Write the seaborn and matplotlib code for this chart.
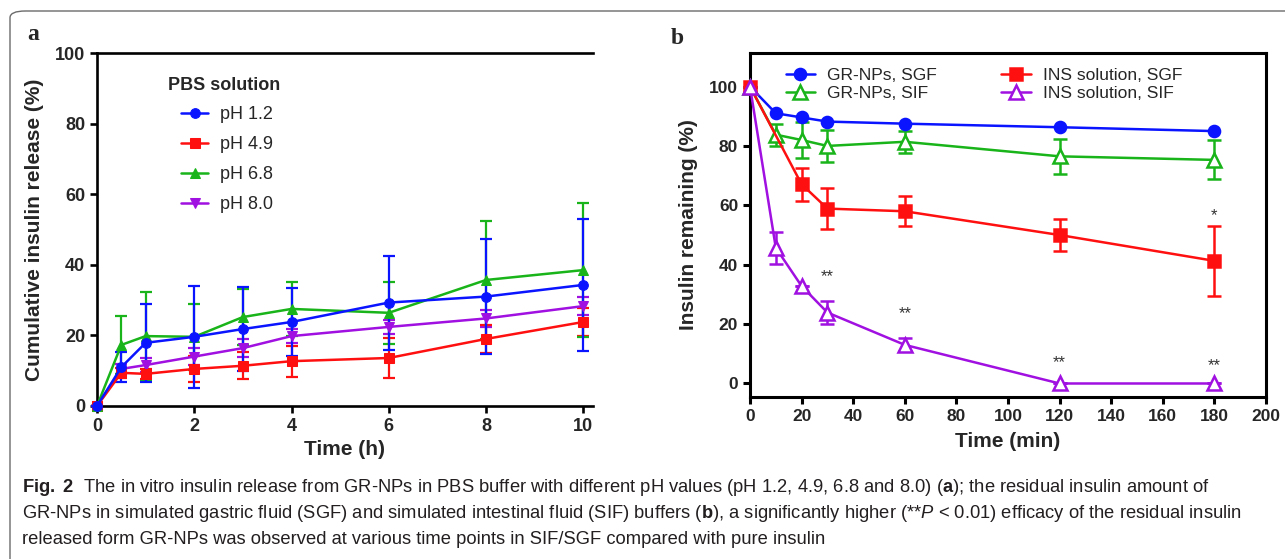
import numpy as np
import pandas as pd
import matplotlib
matplotlib.use("Agg")
import matplotlib.pyplot as plt
import seaborn as sns
from matplotlib.patches import FancyBboxPatch

# ---- panel a data: cumulative insulin release (%) in PBS ----
time_h = [0, 0.5, 1, 2, 3, 4, 6, 8, 10]
ph_labels = ["pH 1.2", "pH 4.9", "pH 6.8", "pH 8.0"]
release_ph12 = [0, 11.0, 17.9, 19.6, 21.8, 23.8, 29.3, 31.0, 34.3]
err_ph12 = [0, 4.3, 11.0, 14.5, 12.0, 9.7, 13.3, 16.3, 18.7]
release_ph49 = [0, 9.4, 9.1, 10.5, 11.4, 12.7, 13.6, 19.0, 23.8]
err_ph49 = [0, 1.5, 1.5, 3.6, 3.8, 4.4, 5.7, 4.0, 4.0]
release_ph68 = [0, 17.3, 19.8, 19.6, 25.2, 27.5, 26.4, 35.7, 38.5]
err_ph68 = [0, 8.2, 12.6, 9.4, 8.0, 7.7, 8.7, 16.7, 19.0]
release_ph80 = [0, 10.5, 11.6, 14.0, 16.4, 19.8, 22.4, 24.8, 28.3]
err_ph80 = [0, 1.5, 2.0, 2.5, 2.5, 2.0, 2.0, 2.5, 2.5]

# ---- panel b data: insulin remaining (%) ----
time_min = [0, 10, 20, 30, 60, 120, 180]
time_min_ins_sgf = [0, 20, 30, 60, 120, 180]
b_labels = ["GR-NPs, SGF", "GR-NPs, SIF", "INS solution, SGF", "INS solution, SIF"]
gr_sgf = [100, 91.0, 89.6, 88.2, 87.5, 86.3, 85.0]
gr_sif = [100, 83.8, 82.0, 80.0, 81.4, 76.5, 75.3]
gr_sif_err = [0, 3.7, 6.0, 5.4, 3.8, 6.0, 6.6]
ins_sgf = [100, 67.1, 58.9, 58.0, 50.0, 41.3]
ins_sgf_err = [0, 5.5, 7.0, 5.0, 5.3, 11.8]
ins_sif = [100, 45.7, 32.8, 23.9, 13.0, 0, 0]
ins_sif_err = [0, 5.4, 0, 4.0, 2.2, 0, 0]
star_x = [30, 60, 120, 180, 180]
star_y = [36, 23.5, 7, 6, 56.5]
star_txt = ["**", "**", "**", "**", "*"]

BLUE, RED, GREEN, PURPLE = "#0a14ff", "#ff1010", "#19b419", "#a010e0"

sns.set_style("ticks")
plt.rcParams["font.family"] = ["Liberation Sans", "DejaVu Sans"]
plt.rcParams["mathtext.fontset"] = "custom"
plt.rcParams["mathtext.rm"] = "Liberation Sans"
plt.rcParams["mathtext.bf"] = "Liberation Sans:bold"
plt.rcParams["mathtext.it"] = "Liberation Sans:italic"

W, H = 1285, 559
fig = plt.figure(figsize=(W / 100, H / 100), dpi=100)


def fx(px):
    return px / W


def fy(py):
    return 1 - py / H


# rounded frame around the figure block
frame = FancyBboxPatch((fx(10), fy(600)), fx(1300), fy(11) - fy(600),
                       boxstyle="round,pad=0,rounding_size=0.012",
                       transform=fig.transFigure, fill=False,
                       edgecolor="#6b6b6b", linewidth=1.0, clip_on=False)
fig.patches.append(frame)


def style_axes(ax, lw=1.9):
    for s in ax.spines.values():
        s.set_linewidth(lw)
        s.set_color("black")
    ax.tick_params(width=lw, length=5, color="black")
    for lab in ax.get_xticklabels() + ax.get_yticklabels():
        lab.set_fontweight("bold")


# ---------------- panel a ----------------
ax1 = fig.add_axes([fx(97), fy(406), fx(593) - fx(97), fy(53) - fy(406)])
series_a = [
    (release_ph12, err_ph12, BLUE, "o", 7),
    (release_ph49, err_ph49, RED, "s", 6.5),
    (release_ph68, err_ph68, GREEN, "^", 6.5),
    (release_ph80, err_ph80, PURPLE, "v", 6.5),
]
order = [3, 1, 2, 0]
for i in order:
    vals, err, col, mk, ms = series_a[i]
    ax1.errorbar(time_h, vals, yerr=err, fmt="none", ecolor=col,
                 elinewidth=1.6, capsize=4, capthick=1.6, clip_on=False, zorder=2)
for i in order:
    vals, err, col, mk, ms = series_a[i]
    df = pd.DataFrame({"t": time_h, "v": vals})
    sns.lineplot(data=df, x="t", y="v", ax=ax1, color=col, marker=mk,
                 markersize=ms, markeredgecolor=col, linewidth=1.8,
                 label=ph_labels[i], clip_on=False, zorder=3)
ax1.set_xlim(0, 10.2)
ax1.set_ylim(0, 100)
ax1.set_xticks([0, 2, 4, 6, 8, 10])
ax1.set_yticks([0, 20, 40, 60, 80, 100])
ax1.tick_params(labelsize=13)
ax1.spines["right"].set_visible(False)
ax1.set_xlabel("Time (h)", fontsize=15, fontweight="bold", labelpad=4)
ax1.set_ylabel("Cumulative insulin release (%)", fontsize=15,
               fontweight="bold", labelpad=8)
style_axes(ax1)
h, l = ax1.get_legend_handles_labels()
idx = [l.index(x) for x in ph_labels]
ax1.legend([h[k] for k in idx], [l[k] for k in idx],
           loc="upper left", bbox_to_anchor=(fx(165), fy(90)),
           bbox_transform=fig.transFigure, frameon=False, fontsize=13,
           handlelength=1.5, handletextpad=0.65, labelspacing=0.72)
fig.text(fx(168), fy(85), "PBS solution", fontsize=13, fontweight="bold",
         va="center")

# ---------------- panel b ----------------
ax2 = fig.add_axes([fx(750), fy(397), fx(1266) - fx(750), fy(53) - fy(397)])
ax2.errorbar(time_min, gr_sif, yerr=gr_sif_err, fmt="none", ecolor=GREEN,
             elinewidth=1.8, capsize=5, capthick=1.8, zorder=2)
ax2.errorbar(time_min_ins_sgf, ins_sgf, yerr=ins_sgf_err, fmt="none", ecolor=RED,
             elinewidth=1.8, capsize=5, capthick=1.8, zorder=2)
ax2.errorbar(time_min, ins_sif, yerr=ins_sif_err, fmt="none", ecolor=PURPLE,
             elinewidth=1.8, capsize=5, capthick=1.8, zorder=2)
series_b = [
    (time_min, gr_sgf, BLUE, "o", 8, BLUE),
    (time_min, gr_sif, GREEN, "^", 10, "white"),
    (time_min_ins_sgf, ins_sgf, RED, "s", 8, RED),
    (time_min, ins_sif, PURPLE, "^", 10, "white"),
]
for (tx, vals, col, mk, ms, fc), lab in zip(series_b, b_labels):
    df = pd.DataFrame({"t": tx, "v": vals})
    sns.lineplot(data=df, x="t", y="v", ax=ax2, color=col, marker=mk,
                 markersize=ms, markerfacecolor=fc, markeredgecolor=col,
                 markeredgewidth=1.8, linewidth=1.8, label=lab,
                 clip_on=False, zorder=3)
for x, y, s in zip(star_x, star_y, star_txt):
    ax2.text(x, y, s, ha="center", va="center", fontsize=12, color="#333333")
ax2.set_xlim(0, 200)
ax2.set_ylim(-4.55, 111.3)
ax2.set_xticks(np.arange(0, 201, 20))
ax2.set_yticks([0, 20, 40, 60, 80, 100])
ax2.tick_params(labelsize=12.5)
ax2.set_xlabel("Time (min)", fontsize=15, fontweight="bold", labelpad=6)
ax2.set_ylabel("Insulin remaining (%)", fontsize=15, fontweight="bold", labelpad=8)
style_axes(ax2, lw=2.2)
h, l = ax2.get_legend_handles_labels()
ax2.legend(h, l, loc="upper left", bbox_to_anchor=(fx(770), fy(52)),
           bbox_transform=fig.transFigure, ncol=2, frameon=False, fontsize=12.5,
           handlelength=1.7, handletextpad=0.7, columnspacing=3.7,
           labelspacing=0.2)

# panel letters
fig.text(fx(27), fy(34), "a", fontsize=17, fontweight="bold",
         family="Liberation Serif", va="center")
fig.text(fx(671), fy(39), "b", fontsize=17, fontweight="bold",
         family="Liberation Serif", va="center")

# caption
cap_lines = [
    r"$\mathbf{Fig.\ 2}$  The in vitro insulin release from GR-NPs in PBS buffer with different pH values (pH 1.2, 4.9, 6.8 and 8.0) ($\mathbf{a}$); the residual insulin amount of",
    r"GR-NPs in simulated gastric fluid (SGF) and simulated intestinal fluid (SIF) buffers ($\mathbf{b}$), a significantly higher (**$\mathit{P}$ < 0.01) efficacy of the residual insulin",
    "released form GR-NPs was observed at various time points in SIF/SGF compared with pure insulin",
]
for k, line in enumerate(cap_lines):
    fig.text(fx(22), fy(487 + 26.5 * k), line, fontsize=13.2, color="#231f20",
             va="center")

fig.savefig("out.png", dpi=100)
